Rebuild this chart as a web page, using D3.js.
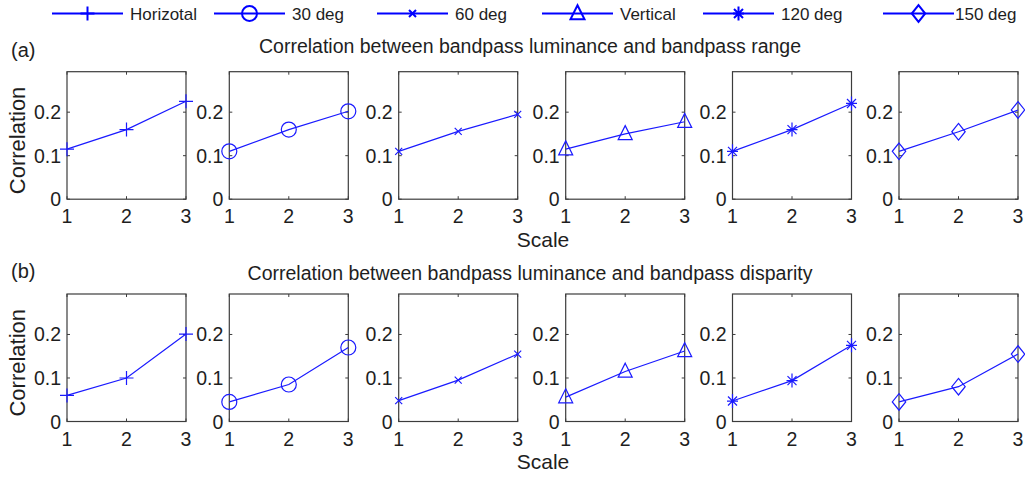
<!DOCTYPE html>
<html>
<head>
<meta charset="utf-8">
<script src="https://cdn.jsdelivr.net/npm/d3@7"></script>
<style>
  body { margin: 0; background: #fff; }
  svg { font-family: "Liberation Sans", Arial, sans-serif; }
</style>
</head>
<body>
<svg width="1025" height="477"></svg>
<script>
// Data
var scales = [1, 2, 3];
var seriesNames = ["Horizotal", "30 deg", "60 deg", "Vertical", "120 deg", "150 deg"];
var rangeValues = [
  [0.115, 0.160, 0.225],
  [0.110, 0.160, 0.202],
  [0.110, 0.156, 0.195],
  [0.115, 0.150, 0.178],
  [0.110, 0.160, 0.220],
  [0.110, 0.155, 0.205]
];
var disparityValues = [
  [0.060, 0.100, 0.201],
  [0.045, 0.085, 0.170],
  [0.048, 0.095, 0.155],
  [0.056, 0.115, 0.162],
  [0.047, 0.094, 0.175],
  [0.045, 0.080, 0.155]
];
var yTicks = [0, 0.1, 0.2];
var yMax = 0.293;
var rowTitles = ["Correlation between bandpass luminance and bandpass range",
                 "Correlation between bandpass luminance and bandpass disparity"];
var rowTags = ["(a)", "(b)"];

// Layout
var panelLeft = [67, 229.3, 398.7, 565.7, 732.5, 899];
var panelW = 119;
var rowTop = [71.7, 294];
var panelH = 127.5;
var lineBlue = "#1a1aff";
var axisGray = "#3c3c3c";
var textColor = "#1e1e1e";

// Marker shapes (MATLAB style)
var markerPaths = [
  "M-7,0H7M0,-7V7",
  "M7.5,0A7.5,7.5 0 1,1 -7.5,0A7.5,7.5 0 1,1 7.5,0Z",
  "M-3.5,-3.5L3.5,3.5M-3.5,3.5L3.5,-3.5",
  "M0,-8.3L7,5.7H-7Z",
  "M-5.5,0H5.5M0,-7V7M-4.5,-4.5L4.5,4.5M-4.5,4.5L4.5,-4.5",
  "M0,-8.3L6.7,0L0,8.3L-6.7,0Z"
];

var svg = d3.select("svg");

var x = d3.scaleLinear().domain([1, 3]).range([0, panelW]);
var y = d3.scaleLinear().domain([0, yMax]).range([panelH, 0]);

var line = d3.line()
    .x((d, i) => x(scales[i]))
    .y(d => y(d));

[rangeValues, disparityValues].forEach((rowData, r) => {
  var top = rowTop[r];

  // row tag and title
  svg.append("text")
      .attr("x", 11).attr("y", top - 15 + (r === 0 ? 0 : -1))
      .attr("font-size", 20).attr("fill", textColor)
      .text(rowTags[r]);
  svg.append("text")
      .attr("x", 530).attr("y", top - 19 + (r === 0 ? 0 : 5))
      .attr("text-anchor", "middle")
      .attr("font-size", 19.5).attr("fill", textColor)
      .text(rowTitles[r]);

  // y label and x label
  svg.append("text")
      .attr("transform", `translate(25,${top + panelH / 2 + 5}) rotate(-90)`)
      .attr("text-anchor", "middle")
      .attr("font-size", 22).attr("fill", textColor)
      .text("Correlation");
  svg.append("text")
      .attr("x", 543).attr("y", top + panelH + 47.5)
      .attr("text-anchor", "middle")
      .attr("font-size", 21).attr("fill", textColor)
      .text("Scale");

  rowData.forEach((vals, k) => {
    var g = svg.append("g")
        .attr("transform", `translate(${panelLeft[k]},${top})`);

    // inside ticks, like MATLAB
    var tickLen = 3;
    yTicks.forEach(t => {
      g.append("line").attr("x1", 0).attr("x2", tickLen)
          .attr("y1", y(t)).attr("y2", y(t)).attr("stroke", axisGray);
      g.append("line").attr("x1", panelW).attr("x2", panelW - tickLen)
          .attr("y1", y(t)).attr("y2", y(t)).attr("stroke", axisGray);
      g.append("text")
          .attr("x", -6).attr("y", y(t)).attr("dy", "0.36em")
          .attr("text-anchor", "end")
          .attr("font-size", 19.5).attr("fill", textColor)
          .text(t === 0 ? "0" : d3.format(".1f")(t));
    });
    scales.forEach(s => {
      g.append("line").attr("x1", x(s)).attr("x2", x(s))
          .attr("y1", panelH).attr("y2", panelH - tickLen).attr("stroke", axisGray);
      g.append("line").attr("x1", x(s)).attr("x2", x(s))
          .attr("y1", 0).attr("y2", tickLen).attr("stroke", axisGray);
      g.append("text")
          .attr("x", x(s)).attr("y", panelH + 24)
          .attr("text-anchor", "middle")
          .attr("font-size", 19.5).attr("fill", textColor)
          .text(s);
    });

    // box
    g.append("rect")
        .attr("x", 0).attr("y", 0)
        .attr("width", panelW).attr("height", panelH)
        .attr("fill", "none").attr("stroke", axisGray).attr("stroke-width", 1.2);

    // series line and markers
    g.append("path")
        .datum(vals)
        .attr("d", line)
        .attr("fill", "none")
        .attr("stroke", lineBlue)
        .attr("stroke-width", 1.2);

    g.selectAll("path.marker")
        .data(vals)
        .enter()
        .append("path")
        .attr("class", "marker")
        .attr("transform", (d, i) => `translate(${x(scales[i])},${y(d)})`)
        .attr("d", markerPaths[k])
        .attr("fill", "none")
        .attr("stroke", lineBlue)
        .attr("stroke-width", 1.2);
  });
});

// Legend across the top
var legendLineX = [52, 214, 377, 542, 703, 883];
var legendLineW = 71;
var legendY = 13.5;
seriesNames.forEach((name, k) => {
  var lg = svg.append("g").attr("transform", `translate(${legendLineX[k]},${legendY})`);
  lg.append("line")
      .attr("x1", 0).attr("x2", legendLineW)
      .attr("y1", 0).attr("y2", 0)
      .attr("stroke", "#0000ff").attr("stroke-width", 2);
  lg.append("path")
      .attr("transform", `translate(${legendLineW / 2},0)`)
      .attr("d", markerPaths[k])
      .attr("fill", "none")
      .attr("stroke", "#0000ff")
      .attr("stroke-width", 2);
  lg.append("text")
      .attr("x", legendLineW + (k === 5 ? 1 : 7))
      .attr("y", 0).attr("dy", "0.36em")
      .attr("font-size", 17).attr("fill", textColor)
      .text(name);
});
</script>
</body>
</html>
